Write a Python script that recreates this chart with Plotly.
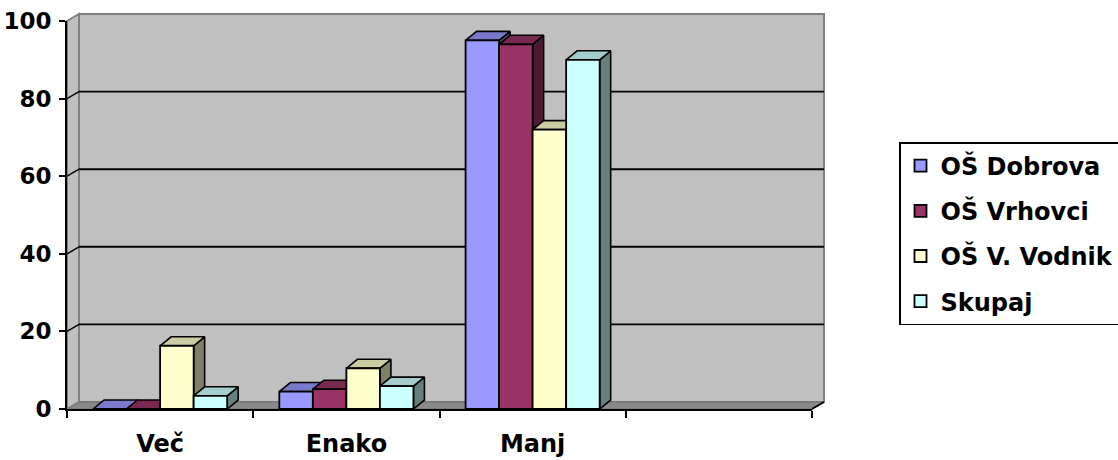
import plotly.graph_objects as go

# ---- data ----
categories = ["Več", "Enako", "Manj", ""]
series_names = ["OŠ Dobrova", "OŠ Vrhovci", "OŠ V. Vodnik", "Skupaj"]
dobrova = [0, 4.5, 95]
vrhovci = [0, 5.1, 94]
vodnik = [16.3, 10.5, 72]
skupaj = [3.4, 5.9, 90]
y_ticks = [0, 20, 40, 60, 80, 100]

series_values = [dobrova, vrhovci, vodnik, skupaj]
front_colors = ["#9999FF", "#993366", "#FFFFCC", "#CCFFFF"]
top_colors = ["#7A7ACC", "#7A2952", "#CCCCA3", "#A3CCCC"]
side_colors = ["#4D4D80", "#4D1A33", "#808066", "#668080"]

# ---- layout geometry ----
W, H = 1118, 460
PW, PH = 745, 388
ML, MT = 67, 21
MR, MB = W - ML - PW, H - MT - PH
XMIN, XMAX = -0.5, len(categories) - 0.5
YMIN, YMAX = 0, 100
ux = (XMAX - XMIN) / PW   # data units per px
uy = (YMAX - YMIN) / PH

# wall depth (px) and bar depth (px)
WDX, WDY = 12, 7
BDX, BDY = 11, 9
bdx, bdy = BDX * ux, BDY * uy
wdx, wdy = WDX / PW, WDY / PH  # paper units

n = len(series_values)
group_w = 0.72
bar_w = group_w / n

fig = go.Figure()

# side faces first, then top faces (on main subplot)
sides, tops = [], []
for i, vals in enumerate(series_values):
    off = -group_w / 2 + bar_w * i
    for c, h in enumerate(vals):
        xl = c + off
        xr = xl + bar_w
        sides.append(go.Scatter(
            x=[xr, xr + bdx, xr + bdx, xr, xr],
            y=[0, bdy, h + bdy, h, 0],
            fill="toself", fillcolor=side_colors[i], mode="lines",
            line=dict(color="black", width=1.6), showlegend=False, hoverinfo="skip"))
        tops.append(go.Scatter(
            x=[xl, xr, xr + bdx, xl + bdx, xl],
            y=[h, h, h + bdy, h + bdy, h],
            fill="toself", fillcolor=top_colors[i], mode="lines",
            line=dict(color="black", width=1.6), showlegend=False, hoverinfo="skip"))
for t in sides + tops:
    fig.add_trace(t)

# front faces as real bars on an overlaid subplot (drawn above)
for i, (name, vals) in enumerate(zip(series_names, series_values)):
    fig.add_trace(go.Bar(
        x=list(range(len(vals))), y=vals, name=name,
        width=bar_w, offset=-group_w / 2 + bar_w * i,
        marker=dict(color=front_colors[i], line=dict(color="black", width=1.8)),
        xaxis="x2", yaxis="y2", legendgroup=name))

shapes = []
# back wall
shapes.append(dict(type="rect", xref="paper", yref="paper",
                   x0=wdx, x1=1 + wdx, y0=wdy, y1=1 + wdy,
                   fillcolor="#C0C0C0", line=dict(color="#808080", width=2), layer="below"))
# left side wall
shapes.append(dict(type="path", xref="paper", yref="paper",
                   path=f"M 0,0 L {wdx},{wdy} L {wdx},{1 + wdy} L 0,1 Z",
                   fillcolor="#C0C0C0", line=dict(color="#808080", width=2), layer="below"))
# floor
shapes.append(dict(type="path", xref="paper", yref="paper",
                   path=f"M 0,0 L 1,0 L {1 + wdx},{wdy} L {wdx},{wdy} Z",
                   fillcolor="#8A8A8A", line=dict(color="#707070", width=1), layer="below"))
# gridlines on back wall + connectors
for v in y_ticks[1:-1]:
    yp = (v - YMIN) / (YMAX - YMIN)
    shapes.append(dict(type="line", xref="paper", yref="paper",
                       x0=wdx, x1=1 + wdx, y0=yp + wdy, y1=yp + wdy,
                       line=dict(color="black", width=1.9), layer="below"))
    shapes.append(dict(type="line", xref="paper", yref="paper",
                       x0=0, x1=wdx, y0=yp, y1=yp + wdy,
                       line=dict(color="black", width=1.5), layer="below"))
# right front floor edge
shapes.append(dict(type="line", xref="paper", yref="paper",
                   x0=1, x1=1 + wdx, y0=0, y1=wdy,
                   line=dict(color="black", width=2), layer="below"))

FONT = "DejaVu Sans"
LEG_LEFT_PX, LEG_TOP_PX = 899, 142
PLOT_BOTTOM_PX = MT + PH

fig.update_layout(
    width=W, height=H,
    margin=dict(l=ML, r=MR, t=MT, b=MB, autoexpand=False),
    paper_bgcolor="white", plot_bgcolor="rgba(0,0,0,0)",
    barmode="overlay",
    shapes=shapes,
    font=dict(family=FONT, color="black"),
    xaxis=dict(range=[XMIN, XMAX], showgrid=False, zeroline=False,
               tickmode="array", tickvals=[0, 1, 2], ticktext=categories[:3],
               ticks="", showline=True, linecolor="black", linewidth=2,
               tickfont=dict(family=FONT, size=24, weight="bold"),
               ticklabelstandoff=12,
               minor=dict(tickmode="array",
                          tickvals=[k - 0.5 for k in range(len(categories) + 1)],
                          ticks="outside", ticklen=7, tickwidth=2, tickcolor="black",
                          showgrid=False)),
    yaxis=dict(range=[YMIN, YMAX], showgrid=False, zeroline=False,
               tickmode="array", tickvals=y_ticks,
               ticks="outside", ticklen=6, tickwidth=2, tickcolor="black",
               showline=True, linecolor="black", linewidth=2,
               tickfont=dict(family=FONT, size=23, weight="bold"),
               ticklabelstandoff=3),
    xaxis2=dict(range=[XMIN, XMAX], overlaying="x", visible=False),
    yaxis2=dict(range=[YMIN, YMAX], overlaying="y", visible=False),
    legend=dict(x=(LEG_LEFT_PX - ML) / PW, y=(PLOT_BOTTOM_PX - LEG_TOP_PX) / PH,
                xanchor="left", yanchor="top",
                bgcolor="white", bordercolor="black", borderwidth=1.5,
                font=dict(family=FONT, size=24, weight="bold"),
                tracegroupgap=11),
    showlegend=True,
)

fig.write_html("out.html",
               config={"displayModeBar": False},
               post_script="document.body.style.margin='0';document.body.style.overflow='hidden';")
